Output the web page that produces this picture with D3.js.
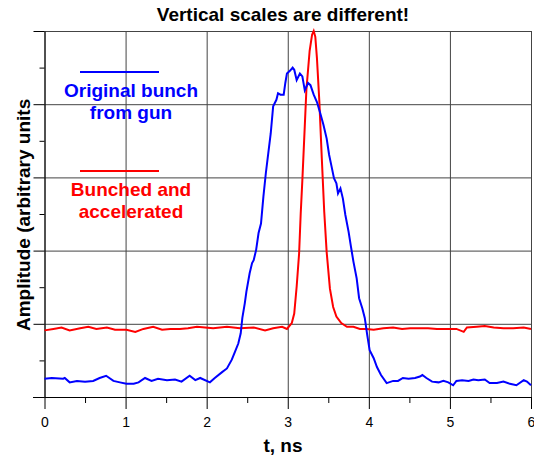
<!DOCTYPE html>
<html>
<head>
<meta charset="utf-8">
<script src="https://cdn.jsdelivr.net/npm/d3@7"></script>
<style>
	body { margin: 0; background: #fff; }
	text { font-family: "Liberation Sans", Arial, sans-serif; }
</style>
</head>
<body>
<div id="chart"></div>
<script>
var width = 534;
var height = 456;

// plot box
var plotLeft = 44.5, plotRight = 531, plotTop = 31, plotBottom = 397;

var titleText = "Vertical scales are different!";
var xLabel = "t, ns";
var yLabel = "Amplitude (arbitrary units";
var xTicks = [0, 1, 2, 3, 4, 5, 6];

// original bunch from gun (blue)
var blueTime = [0.00, 0.09, 0.23, 0.25, 0.31, 0.40, 0.50, 0.60, 0.68, 0.76, 0.85, 0.93, 1.01, 1.10, 1.16, 1.24, 1.32, 1.40, 1.51, 1.61,
	1.69, 1.79, 1.86, 1.92, 2.04, 2.10, 2.19, 2.25, 2.31, 2.35, 2.39, 2.42, 2.44, 2.47, 2.49, 2.53, 2.56, 2.58, 2.61, 2.64,
	2.67, 2.70, 2.73, 2.76, 2.79, 2.82, 2.86, 2.88, 2.91, 2.95, 2.97, 2.99, 3.03, 3.06, 3.08, 3.11, 3.15, 3.18, 3.21, 3.25,
	3.28, 3.32, 3.36, 3.40, 3.44, 3.48, 3.51, 3.54, 3.57, 3.60, 3.62, 3.65, 3.68, 3.71, 3.75, 3.78, 3.81, 3.85, 3.88, 3.92,
	3.95, 3.98, 4.01, 4.06, 4.10, 4.15, 4.22, 4.30, 4.36, 4.42, 4.49, 4.57, 4.63, 4.66, 4.71, 4.78, 4.86, 4.92, 4.98, 5.04,
	5.08, 5.15, 5.23, 5.29, 5.35, 5.43, 5.49, 5.58, 5.66, 5.74, 5.82, 5.91, 5.95, 6.00];
var blueAmp = [0.25, 0.26, 0.25, 0.26, 0.20, 0.22, 0.21, 0.22, 0.26, 0.29, 0.22, 0.20, 0.18, 0.18, 0.20, 0.26, 0.22, 0.25, 0.23, 0.24,
	0.21, 0.29, 0.23, 0.26, 0.20, 0.26, 0.34, 0.39, 0.51, 0.62, 0.73, 0.87, 1.08, 1.28, 1.44, 1.69, 1.83, 1.87, 2.01, 2.24,
	2.37, 2.74, 3.06, 3.33, 3.60, 3.97, 4.06, 4.15, 4.13, 4.13, 4.29, 4.42, 4.46, 4.50, 4.47, 4.33, 4.42, 4.38, 4.19, 4.29,
	4.26, 4.13, 4.03, 3.88, 3.72, 3.53, 3.31, 3.15, 2.99, 2.92, 2.78, 2.85, 2.71, 2.49, 2.26, 2.05, 1.85, 1.62, 1.35, 1.21,
	1.08, 0.85, 0.64, 0.53, 0.41, 0.30, 0.19, 0.22, 0.22, 0.26, 0.25, 0.26, 0.28, 0.30, 0.26, 0.21, 0.20, 0.22, 0.20, 0.16,
	0.22, 0.23, 0.22, 0.24, 0.23, 0.24, 0.19, 0.19, 0.21, 0.18, 0.16, 0.23, 0.21, 0.16];

// bunched and accelerated (red)
var redTime = [0.00, 0.11, 0.21, 0.31, 0.44, 0.54, 0.64, 0.77, 0.87, 1.01, 1.12, 1.22, 1.34, 1.45, 1.55, 1.67, 1.77, 1.88, 1.98, 2.08,
	2.25, 2.41, 2.58, 2.72, 2.82, 2.93, 2.99, 3.05, 3.08, 3.11, 3.14, 3.16, 3.18, 3.21, 3.23, 3.27, 3.30, 3.32, 3.34, 3.36,
	3.39, 3.42, 3.45, 3.48, 3.52, 3.56, 3.60, 3.66, 3.73, 3.81, 3.89, 3.97, 4.06, 4.18, 4.30, 4.41, 4.51, 4.63, 4.73, 4.84,
	4.96, 5.08, 5.17, 5.21, 5.33, 5.43, 5.54, 5.66, 5.78, 5.91, 6.00];
var redAmp = [0.91, 0.93, 0.95, 0.91, 0.94, 0.96, 0.93, 0.95, 0.92, 0.92, 0.89, 0.93, 0.96, 0.92, 0.93, 0.93, 0.94, 0.96, 0.95, 0.94,
	0.96, 0.94, 0.95, 0.91, 0.94, 0.96, 0.93, 1.01, 1.14, 1.51, 1.96, 2.51, 2.96, 3.70, 4.20, 4.73, 4.95, 5.00, 4.92, 4.63,
	4.03, 3.26, 2.53, 1.98, 1.48, 1.23, 1.10, 1.01, 0.96, 0.96, 0.93, 0.93, 0.92, 0.94, 0.95, 0.93, 0.94, 0.94, 0.94, 0.93,
	0.93, 0.93, 0.89, 0.95, 0.96, 0.97, 0.95, 0.94, 0.94, 0.95, 0.93];

var legendNames = [["Original bunch", "from gun"], ["Bunched and", "accelerated"]];
var legendColors = ["#0000ff", "#ff0000"];

document.addEventListener("DOMContentLoaded", function(event) {
	var svg = d3.select("#chart")
		.append("svg")
		.attr("width", width)
		.attr("height", height);

	var x = d3.scaleLinear().domain([0, 6]).range([plotLeft, plotRight]);
	var y = d3.scaleLinear().domain([0, 5]).range([plotBottom, plotTop]);

	var majorY = d3.range(0, 5.01, 1);
	var minorY = d3.range(0.5, 5, 1);
	var minorX = d3.range(0.5, 6, 1);

	// grid
	svg.append("g")
		.attr("transform", "translate(0," + plotBottom + ")")
		.call(d3.axisBottom(x).tickValues(xTicks).tickSize(-(plotBottom - plotTop)).tickFormat(""))
		.call(function(g) { g.select(".domain").remove(); })
		.selectAll("line").attr("stroke", "#444");
	svg.append("g")
		.attr("transform", "translate(" + plotLeft + ",0)")
		.call(d3.axisLeft(y).tickValues(majorY).tickSize(-(plotRight - plotLeft)).tickFormat(""))
		.call(function(g) { g.select(".domain").remove(); })
		.selectAll("line").attr("stroke", "#444");

	// left axis ticks (outward, no labels)
	svg.append("g")
		.attr("transform", "translate(" + plotLeft + ",0)")
		.call(d3.axisLeft(y).tickValues(majorY).tickSize(11).tickSizeOuter(0).tickFormat(""))
		.call(function(g) { g.select(".domain").attr("stroke", "#000"); });
	svg.append("g")
		.attr("transform", "translate(" + plotLeft + ",0)")
		.call(d3.axisLeft(y).tickValues(minorY).tickSize(5).tickSizeOuter(0).tickFormat(""))
		.call(function(g) { g.select(".domain").remove(); });

	// bottom axis
	var xAxis = svg.append("g")
		.attr("transform", "translate(0," + plotBottom + ")")
		.attr("font-size", 14)
		.call(d3.axisBottom(x).tickValues(xTicks).tickSize(12).tickSizeOuter(0).tickPadding(8)
			.tickFormat(d3.format("d")));
	xAxis.attr("font-size", 14).attr("font-family", "'Liberation Sans', Arial, sans-serif");
	xAxis.select(".domain").attr("stroke", "#000");
	xAxis.selectAll("text").attr("fill", "#000");
	svg.append("g")
		.attr("transform", "translate(0," + plotBottom + ")")
		.call(d3.axisBottom(x).tickValues(minorX).tickSize(6).tickSizeOuter(0).tickFormat(""))
		.call(function(g) { g.select(".domain").remove(); });
	// axis line pokes out to the left a bit
	svg.append("line")
		.attr("x1", 33).attr("x2", plotLeft).attr("y1", plotBottom + 0.5).attr("y2", plotBottom + 0.5)
		.attr("stroke", "#000");

	// curves
	var line = d3.line()
		.x(function(d) { return x(d[0]); })
		.y(function(d) { return y(d[1]); });

	var blue = blueTime.map(function(t, i) { return [t, blueAmp[i]]; });
	var red = redTime.map(function(t, i) { return [t, redAmp[i]]; });

	svg.append("path").datum(red)
		.attr("d", line)
		.attr("fill", "none")
		.attr("stroke", legendColors[1])
		.attr("stroke-width", 2);
	svg.append("path").datum(blue)
		.attr("d", line)
		.attr("fill", "none")
		.attr("stroke", legendColors[0])
		.attr("stroke-width", 2);

	// legend
	var legendY = [72, 171];
	legendNames.forEach(function(names, i) {
		var ly = legendY[i];
		svg.append("line")
			.attr("x1", 80).attr("x2", 159)
			.attr("y1", ly).attr("y2", ly)
			.attr("stroke", legendColors[i])
			.attr("stroke-width", 2);
		names.forEach(function(s, j) {
			svg.append("text")
				.attr("x", 131)
				.attr("y", ly + 25 + j * 22)
				.attr("text-anchor", "middle")
				.attr("font-size", 19)
				.attr("font-weight", "bold")
				.attr("fill", legendColors[i])
				.text(s);
		});
	});

	// titles
	svg.append("text")
		.attr("x", 283).attr("y", 21)
		.attr("text-anchor", "middle")
		.attr("font-size", 19)
		.attr("font-weight", "bold")
		.text(titleText);
	svg.append("text")
		.attr("x", 283).attr("y", 452)
		.attr("text-anchor", "middle")
		.attr("font-size", 19)
		.attr("font-weight", "bold")
		.text(xLabel);
	svg.append("text")
		.attr("transform", "translate(30,331) rotate(-90)")
		.attr("text-anchor", "start")
		.attr("font-size", 19)
		.attr("font-weight", "bold")
		.text(yLabel);
});
</script>
</body>
</html>
